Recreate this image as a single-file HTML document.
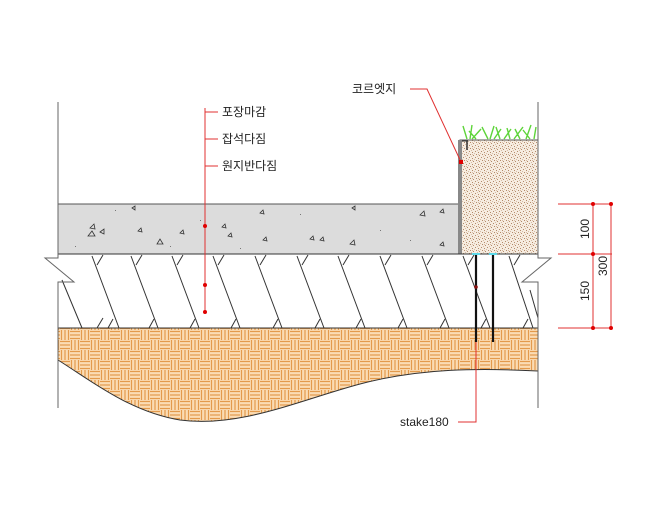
<!DOCTYPE html>
<html><head><meta charset="utf-8"><style>
html,body{margin:0;padding:0;background:#fff;}
svg{display:block;}
text{font-family:"Liberation Sans","Noto Sans CJK KR",sans-serif;}
</style></head><body>
<svg width="660" height="510" viewBox="0 0 660 510" xmlns="http://www.w3.org/2000/svg">
<defs>
<pattern id="weave" width="20" height="20" patternUnits="userSpaceOnUse">
<rect width="20" height="20" fill="#fbdcb4"/>
<g stroke="#e39a4c" stroke-width="1.2">
<line x1="0" y1="1.5" x2="10" y2="1.5"/><line x1="0" y1="5" x2="10" y2="5"/><line x1="0" y1="8.5" x2="10" y2="8.5"/>
<line x1="11.5" y1="0" x2="11.5" y2="10"/><line x1="15" y1="0" x2="15" y2="10"/><line x1="18.5" y1="0" x2="18.5" y2="10"/>
<line x1="1.5" y1="10" x2="1.5" y2="20"/><line x1="5" y1="10" x2="5" y2="20"/><line x1="8.5" y1="10" x2="8.5" y2="20"/>
<line x1="10" y1="11.5" x2="20" y2="11.5"/><line x1="10" y1="15" x2="20" y2="15"/><line x1="10" y1="18.5" x2="20" y2="18.5"/>
</g></pattern>
<pattern id="speck" width="6" height="6" patternUnits="userSpaceOnUse">
<rect width="6" height="6" fill="#f6ece0"/>
<g fill="#b48a6a"><rect x="1" y="1" width="1" height="1"/><rect x="4" y="2" width="1" height="1"/><rect x="2" y="4" width="1" height="1"/><rect x="5" y="5" width="1" height="1"/></g>
<g fill="#d6bba4"><rect x="3" y="0" width="1" height="1"/><rect x="0" y="3" width="1" height="1"/><rect x="4" y="4" width="1" height="1"/></g>
</pattern>
</defs>

<path d="M58,328 L538,328 L538,371 C480,368 420,368 360,384 C300,400 240,428 180,420 C130,412 90,380 58,360 Z" fill="url(#weave)"/>
<path d="M58,360 C90,380 130,412 180,420 C240,428 300,400 360,384 C420,368 480,368 538,371" fill="none" stroke="#333" stroke-width="1"/>

<rect x="58" y="204" width="402" height="50" fill="#dcdcdc" stroke="#555" stroke-width="1"/>
<g fill="none" stroke="#333" stroke-width="0.8">
<path d="M90,228 l4,-4 l1,5z"/><path d="M100,232 l4,-3 l0,5z"/><path d="M88,236 l4,-5 l3,5z"/><path d="M132,208 l3,-2 l0,4z"/><path d="M138,231 l3,-3 l1,4z"/><path d="M157,244 l3,-5 l3,5z"/><path d="M180,233 l3,-3 l1,4z"/><path d="M222,227 l3,-3 l1,4z"/><path d="M228,236 l3,-3 l1,4z"/><path d="M260,213 l3,-3 l1,4z"/><path d="M263,240 l3,-3 l1,4z"/><path d="M310,239 l3,-3 l1,4z"/><path d="M320,240 l3,-3 l1,4z"/><path d="M350,244 l4,-4 l1,5z"/><path d="M352,208 l3,-2 l0,4z"/><path d="M420,215 l4,-4 l1,5z"/><path d="M440,212 l3,-3 l1,4z"/><path d="M440,245 l3,-3 l1,4z"/>
</g>
<g fill="#777"><rect x="115" y="210" width="1" height="1"/><rect x="200" y="220" width="1" height="1"/><rect x="240" y="248" width="1" height="1"/><rect x="300" y="214" width="1" height="1"/><rect x="380" y="230" width="1" height="1"/><rect x="170" y="246" width="1" height="1"/><rect x="410" y="240" width="1" height="1"/><rect x="75" y="246" width="1" height="1"/></g>

<rect x="460" y="140" width="78" height="114" fill="url(#speck)" stroke="#555" stroke-width="1"/>
<rect x="458" y="140" width="4" height="114" fill="#888"/>
<line x1="462" y1="141" x2="468" y2="141" stroke="#333" stroke-width="1"/>
<line x1="467" y1="141" x2="467" y2="150" stroke="#333" stroke-width="1.5"/>
<g stroke="#5ed43a" stroke-width="1.4" fill="none">
<path d="M467,139 l-4,-13 M470,139 l2,-14 M472,139 l9,-10 M476,139 l-7,-8 M488,139 l-6,-12 M490,139 l4,-13 M494,139 l7,-10 M500,139 l-4,-12 M504,139 l7,-10 M510,139 l-3,-11 M514,139 l9,-12 M520,139 l-5,-10 M526,139 l5,-14 M530,139 l-7,-9 M534,139 l2,-12"/>
</g>

<g stroke="#333" stroke-width="1" fill="none">
<line x1="58" y1="254" x2="538" y2="254"/>
<line x1="58" y1="328" x2="538" y2="328"/>
<path d="M92,256 l27,72 M131,256 l27,72 M172,256 l27,72 M213,256 l27,72 M255,256 l27,72 M297,256 l27,72 M338,256 l27,72 M380,256 l27,72 M422,256 l27,72 M463,256 l27,72 M509,256 l24,72"/>
<path d="M103,255 l-6,10 M142,255 l-6,10 M183,255 l-6,10 M224,255 l-6,10 M266,255 l-6,10 M308,255 l-6,10 M349,255 l-6,10 M391,255 l-6,10 M433,255 l-6,10 M474,255 l-6,10 M520,255 l-6,10"/>
<path d="M97,328 l6,-10 M108,328 l5,-9 M149,328 l5,-9 M190,328 l5,-9 M231,328 l5,-9 M273,328 l5,-9 M315,328 l5,-9 M356,328 l5,-9 M398,328 l5,-9 M440,328 l5,-9 M481,328 l5,-9 M523,328 l5,-9"/>
<path d="M62,280 l20,48 M530,290 l8,28"/>
</g>

<g stroke="#666" stroke-width="1" fill="none">
<polyline points="58,102 58,258 45,258 74,282 58,282 58,408"/>
<polyline points="538,102 538,258 551,258 522,282 538,282 538,408"/>
</g>

<line x1="476" y1="254" x2="476" y2="342" stroke="#111" stroke-width="2.2"/>
<line x1="493" y1="254" x2="493" y2="342" stroke="#111" stroke-width="2.2"/>
<line x1="472" y1="254" x2="480" y2="254" stroke="#5cd8e8" stroke-width="2"/>
<line x1="489" y1="254" x2="497" y2="254" stroke="#5cd8e8" stroke-width="2"/>

<g stroke="#e03030" stroke-width="1" fill="none">
<line x1="205" y1="108" x2="205" y2="312"/>
<line x1="205" y1="112" x2="218" y2="112"/>
<line x1="205" y1="139" x2="218" y2="139"/>
<line x1="205" y1="166" x2="218" y2="166"/>
<polyline points="410,89 427,89 461,162"/>
<polyline points="476,342 476,422 458,422"/>
<line x1="558" y1="204" x2="612" y2="204"/>
<line x1="558" y1="254" x2="612" y2="254"/>
<line x1="558" y1="328" x2="612" y2="328"/>
<line x1="593" y1="204" x2="593" y2="328"/>
<line x1="611" y1="204" x2="611" y2="328"/>
</g>
<g fill="#e00000">
<circle cx="205" cy="226" r="2"/><circle cx="205" cy="285" r="2"/><circle cx="205" cy="312" r="2"/>
<rect x="459" y="160" width="4" height="4"/>
<circle cx="476" cy="287" r="1.8" fill="#8a1010"/>
<circle cx="593" cy="204" r="2"/><circle cx="611" cy="204" r="2"/><circle cx="593" cy="254" r="2"/><circle cx="593" cy="328" r="2"/><circle cx="611" cy="328" r="2"/>
</g>

<g font-size="12" fill="#222">
<text x="222" y="116">포장마감</text>
<text x="222" y="143">잡석다짐</text>
<text x="222" y="170">원지반다짐</text>
<text x="352" y="93">코르엣지</text>
<text x="400" y="426">stake180</text>
<text transform="translate(589,229) rotate(-90)" text-anchor="middle">100</text>
<text transform="translate(589,291) rotate(-90)" text-anchor="middle">150</text>
<text transform="translate(607,266) rotate(-90)" text-anchor="middle">300</text>
</g>
</svg>
</body></html>
